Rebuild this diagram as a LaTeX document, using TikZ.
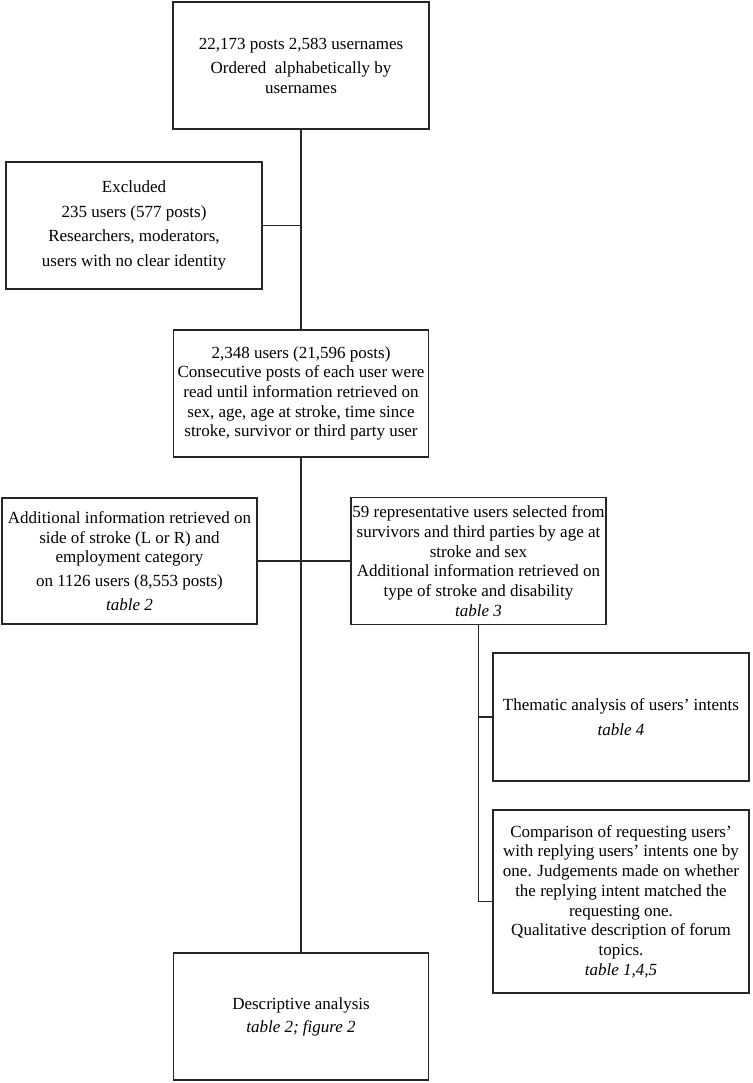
\documentclass[tikz,border=0pt]{standalone}
\usepackage{fontspec}
\setmainfont{Liberation Serif}
\begin{document}
\begin{tikzpicture}[x=1pt,y=-1pt,
  box/.style={draw=black!85, line width=1.5pt, rectangle, inner sep=0pt, align=center,
    font=\fontsize{17}{19.7}\selectfont},
  conn/.style={draw=black!85, line width=1.5pt}]
\useasboundingbox (0,0) rectangle (752,1083);
\fill[white] (0,0) rectangle (752,1083);

\node[box, minimum width=256pt, minimum height=127pt] (b1) at (301,65.5)
  {22,173 posts 2,583 usernames\\[4.5pt]Ordered\ \ alphabetically by\\usernames};
\node[box, minimum width=256pt, minimum height=127pt] (b2) at (134,225.5)
  {Excluded\\[4.8pt]235 users (577 posts)\\[4.8pt]Researchers, moderators,\\[4.8pt]users with no clear identity};
\node[box, minimum width=255pt, minimum height=127pt] (b3) at (301,393.5)
  {2,348 users (21,596 posts)\\Consecutive posts of each user were\\read until information retrieved on\\sex, age, age at stroke, time since\\stroke, survivor or third party user};
\node[box, minimum width=255pt, minimum height=126pt] (b4) at (129.5,561)
  {\fontsize{17}{19}\selectfont Additional information retrieved on\\side of stroke (L or R) and\\employment category\\[4pt]on 1126 users (8,553 posts)\\[4pt]\textit{table 2}};
\node[box, minimum width=255pt, minimum height=127pt] (b5) at (478.5,561)
  {59 representative users selected from\\survivors and third parties by age at\\stroke and sex\\Additional information retrieved on\\type of stroke and disability\\\textit{table 3}};
\node[box, minimum width=256pt, minimum height=128pt] (b6) at (621,717)
  {Thematic analysis of users’ intents\\[4.5pt]\textit{table 4}};
\node[box, minimum width=256pt, minimum height=183pt] (b7) at (621,901.5)
  {Comparison of requesting users’\\with replying users’ intents one by\\one. Judgements made on whether\\the replying intent matched the\\requesting one.\\Qualitative description of forum\\topics.\\\textit{table 1,4,5}};
\node[box, minimum width=255pt, minimum height=127pt] (b8) at (301,1016.5)
  {Descriptive analysis\\[3.5pt]\textit{table 2; figure 2}};

\draw[conn] (b1.south) -- (b3.north);
\draw[conn] (b3.south) -- (b8.north);
\draw[conn] (b2.east) -- (b2.east -| b1.south);
\draw[conn] (b4.east) -- (b5.west);
\draw[conn] (b5.south) -- (b5.south |- b7.west) -- (b7.west);
\draw[conn] (b5.south |- b6.west) -- (b6.west);
\end{tikzpicture}
\end{document}
